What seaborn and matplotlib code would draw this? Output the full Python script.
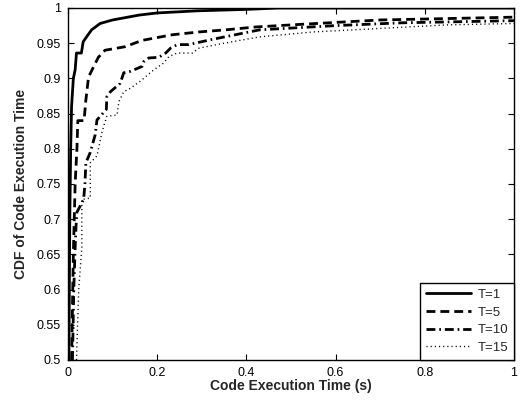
import pandas as pd
import seaborn as sns
import matplotlib
matplotlib.use('Agg')
import matplotlib.pyplot as plt

# CDF curves (x in seconds, y = CDF)
t1_x = [0.002, 0.004, 0.006, 0.008, 0.012, 0.016, 0.019, 0.030, 0.034, 0.045, 0.053, 0.072, 0.10, 0.16, 0.20, 0.29, 0.40, 0.47, 1.0]
t1_y = [0.50, 0.70, 0.80, 0.86, 0.90, 0.912, 0.936, 0.936, 0.952, 0.962, 0.969, 0.978, 0.983, 0.990, 0.993, 0.996, 0.998, 1.0, 1.0]

t5_x = [0.008, 0.012, 0.016, 0.020, 0.022, 0.036, 0.040, 0.046, 0.057, 0.068, 0.083, 0.128, 0.166, 0.234, 0.294, 0.354, 0.42, 0.50, 0.70, 1.0]
t5_y = [0.50, 0.65, 0.75, 0.80, 0.84, 0.84, 0.869, 0.902, 0.916, 0.930, 0.940, 0.945, 0.954, 0.962, 0.966, 0.969, 0.973, 0.976, 0.983, 0.987]

t10_x = [0.010, 0.013, 0.016, 0.018, 0.020, 0.035, 0.038, 0.040, 0.050, 0.061, 0.065, 0.086, 0.087, 0.095, 0.117, 0.125, 0.140, 0.166, 0.170, 0.181, 0.204, 0.219, 0.230, 0.245, 0.271, 0.32, 0.43, 0.60, 0.75, 1.0]
t10_y = [0.50, 0.60, 0.66, 0.69, 0.71, 0.728, 0.75, 0.78, 0.795, 0.82, 0.841, 0.856, 0.874, 0.881, 0.893, 0.908, 0.910, 0.917, 0.924, 0.929, 0.930, 0.936, 0.943, 0.948, 0.948, 0.955, 0.969, 0.975, 0.979, 0.982]

t15_x = [0.019, 0.024, 0.031, 0.031, 0.050, 0.050, 0.065, 0.076, 0.080, 0.087, 0.110, 0.114, 0.125, 0.140, 0.162, 0.192, 0.215, 0.226, 0.245, 0.279, 0.294, 0.35, 0.43, 0.55, 0.70, 0.85, 1.0]
t15_y = [0.50, 0.60, 0.66, 0.728, 0.73, 0.78, 0.79, 0.823, 0.832, 0.846, 0.848, 0.867, 0.881, 0.886, 0.896, 0.912, 0.922, 0.931, 0.936, 0.936, 0.943, 0.950, 0.959, 0.966, 0.971, 0.976, 0.978]

labels = ['T=1', 'T=5', 'T=10', 'T=15']
x_ticks = [0, 0.2, 0.4, 0.6, 0.8, 1]
x_tick_labels = ['0', '0.2', '0.4', '0.6', '0.8', '1']
y_ticks = [0.5, 0.55, 0.6, 0.65, 0.7, 0.75, 0.8, 0.85, 0.9, 0.95, 1]
y_tick_labels = ['0.5', '0.55', '0.6', '0.65', '0.7', '0.75', '0.8', '0.85', '0.9', '0.95', '1']

series = [(t1_x, t1_y), (t5_x, t5_y), (t10_x, t10_y), (t15_x, t15_y)]
styles = [
    dict(linestyle='-', linewidth=2.0),
    dict(linestyle=(0, (3.2, 1.8)), linewidth=2.0),
    dict(linestyle=(0, (3.2, 1.4, 0.6, 1.4)), linewidth=2.0),
    dict(linestyle=(0, (0.8, 2.2)), linewidth=1.0),
]

sns.set_style('ticks')
plt.rcParams['font.family'] = ['Liberation Sans', 'DejaVu Sans']

fig = plt.figure(figsize=(5.22, 4.04), dpi=100)
ax = fig.add_axes([68 / 522, 1 - 360 / 404, 446 / 522, 352 / 404])

for (xs, ys), lab, st in zip(series, labels, styles):
    df = pd.DataFrame({'time': xs, 'cdf': ys})
    sns.lineplot(data=df, x='time', y='cdf', ax=ax, color='black', label=lab,
                 sort=False, estimator=None, **st)

ax.set_xlim(0, 1)
ax.set_ylim(0.5, 1)
ax.set_xticks(x_ticks)
ax.set_xticklabels(x_tick_labels)
ax.set_yticks(y_ticks)
ax.set_yticklabels(y_tick_labels)
ax.tick_params(direction='in', top=True, right=True, length=4, width=0.8,
               labelsize=9, colors='black', pad=5)
for sp in ax.spines.values():
    sp.set_visible(True)
    sp.set_linewidth(1.0)
    sp.set_color('black')

ax.set_xlabel('Code Execution Time (s)', fontsize=10, fontweight='bold', labelpad=0)
ax.set_ylabel('CDF of Code Execution Time', fontsize=10, fontweight='bold', labelpad=6)

leg = ax.legend(loc='lower right', bbox_to_anchor=(1, 0), borderaxespad=0,
                fontsize=9.5, handlelength=3.4, labelspacing=0.42, fancybox=False,
                framealpha=1, edgecolor='black', borderpad=0.45, handletextpad=0.5)
leg.get_frame().set_linewidth(1.0)

fig.savefig('out.png', dpi=100)
